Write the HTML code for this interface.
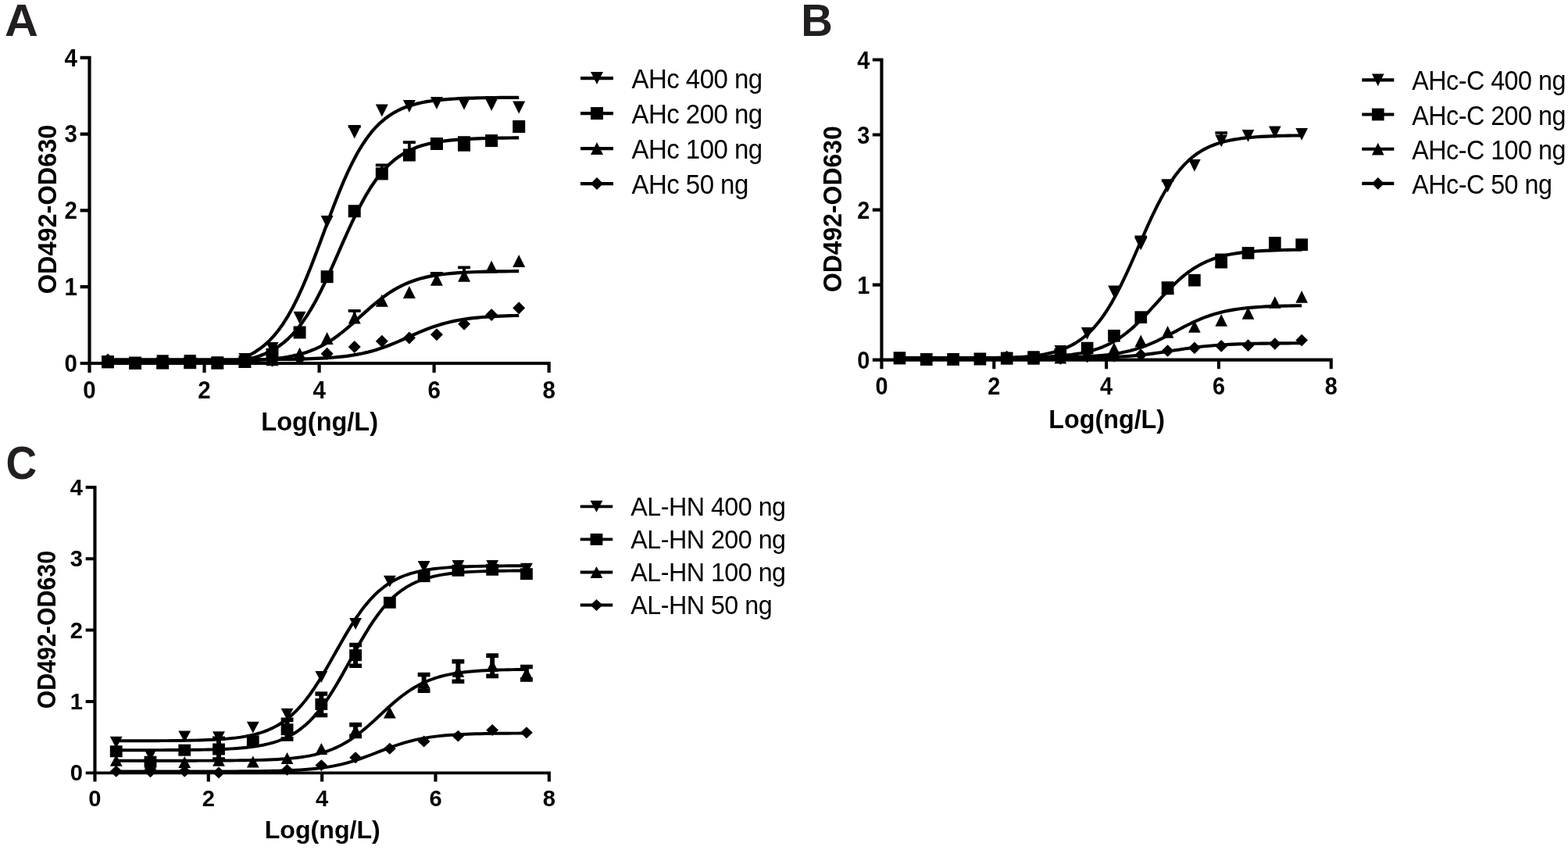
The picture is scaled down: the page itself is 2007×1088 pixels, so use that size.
<!DOCTYPE html>
<html lang="en">
<head>
<meta charset="utf-8">
<title>ELISA binding curves</title>
<style>
html,body{margin:0;padding:0;background:#fff;}
body{width:2007px;height:1088px;overflow:hidden;}
svg{display:block;}
text{font-family:"Liberation Sans",sans-serif;fill:#000;}
.tk{font-weight:700;font-size:29.5px;}
.tt{font-weight:700;font-size:32.5px;}
.lg{font-size:33px;letter-spacing:-0.52px;}
.pl{font-weight:700;font-size:58px;fill:#231f20;}
.ax{fill:none;stroke:#000;stroke-width:4.2;stroke-linecap:butt;}
.cv{fill:none;stroke:#000;stroke-width:4.2;stroke-linejoin:round;}
.eb{fill:none;stroke:#000;}
</style>
</head>
<body>
<svg width="2007" height="1088" viewBox="0 0 2007 1088">
<defs><clipPath id="clip"><rect x="-20" y="-450" width="640" height="452.1"/></clipPath></defs>
<rect width="2007" height="1088" fill="#fff"/>
<!-- panel A -->
<g transform="translate(114.5 465) scale(1.0 1.0)">
<path class="cv" clip-path="url(#clip)" d="M23.5 6.3 L29.41 6.28 L35.32 6.27 L41.24 6.25 L47.15 6.23 L53.06 6.2 L58.97 6.17 L64.89 6.14 L70.8 6.09 L76.71 6.04 L82.62 5.97 L88.54 5.89 L94.45 5.8 L100.36 5.69 L106.27 5.55 L112.19 5.39 L118.1 5.19 L124.01 4.95 L129.92 4.67 L135.83 4.33 L141.75 3.92 L147.66 3.43 L153.57 2.84 L159.48 2.13 L165.4 1.28 L171.31 0.27 L177.22 -0.94 L183.13 -2.39 L189.05 -4.11 L194.96 -6.17 L200.87 -8.6 L206.78 -11.49 L212.7 -14.9 L218.61 -18.91 L224.52 -23.6 L230.43 -29.08 L236.34 -35.42 L242.26 -42.71 L248.17 -51.04 L254.08 -60.47 L259.99 -71.03 L265.91 -82.72 L271.82 -95.52 L277.73 -109.33 L283.64 -124.01 L289.56 -139.38 L295.47 -155.21 L301.38 -171.24 L307.29 -187.2 L313.21 -202.82 L319.12 -217.85 L325.03 -232.1 L330.94 -245.38 L336.86 -257.6 L342.77 -268.7 L348.68 -278.65 L354.59 -287.49 L360.5 -295.27 L366.42 -302.04 L372.33 -307.91 L378.24 -312.96 L384.15 -317.28 L390.07 -320.96 L395.98 -324.08 L401.89 -326.73 L407.8 -328.95 L413.72 -330.82 L419.63 -332.4 L425.54 -333.71 L431.45 -334.82 L437.37 -335.74 L443.28 -336.51 L449.19 -337.15 L455.1 -337.69 L461.01 -338.13 L466.93 -338.5 L472.84 -338.81 L478.75 -339.07 L484.66 -339.29 L490.58 -339.46 L496.49 -339.61 L502.4 -339.74 L508.31 -339.84 L514.23 -339.92 L520.14 -340 L526.05 -340.05 L531.96 -340.1 L537.88 -340.14 L543.79 -340.18 L549.7 -340.21"/>
<path class="cv" clip-path="url(#clip)" d="M23.5 2.09 L29.41 2.08 L35.32 2.07 L41.24 2.06 L47.15 2.05 L53.06 2.04 L58.97 2.03 L64.89 2.01 L70.8 1.99 L76.71 1.97 L82.62 1.94 L88.54 1.9 L94.45 1.86 L100.36 1.81 L106.27 1.75 L112.19 1.67 L118.1 1.58 L124.01 1.47 L129.92 1.35 L135.83 1.19 L141.75 1 L147.66 0.78 L153.57 0.51 L159.48 0.18 L165.4 -0.2 L171.31 -0.67 L177.22 -1.23 L183.13 -1.9 L189.05 -2.71 L194.96 -3.67 L200.87 -4.81 L206.78 -6.18 L212.7 -7.81 L218.61 -9.75 L224.52 -12.04 L230.43 -14.76 L236.34 -17.95 L242.26 -21.7 L248.17 -26.07 L254.08 -31.15 L259.99 -37.01 L265.91 -43.71 L271.82 -51.32 L277.73 -59.88 L283.64 -69.39 L289.56 -79.83 L295.47 -91.16 L301.38 -103.26 L307.29 -115.99 L313.21 -129.18 L319.12 -142.6 L325.03 -156.03 L330.94 -169.25 L336.86 -182.04 L342.77 -194.22 L348.68 -205.64 L354.59 -216.19 L360.5 -225.8 L366.42 -234.46 L372.33 -242.17 L378.24 -248.98 L384.15 -254.92 L390.07 -260.08 L395.98 -264.53 L401.89 -268.34 L407.8 -271.6 L413.72 -274.36 L419.63 -276.7 L425.54 -278.67 L431.45 -280.33 L437.37 -281.73 L443.28 -282.9 L449.19 -283.88 L455.1 -284.7 L461.01 -285.38 L466.93 -285.95 L472.84 -286.43 L478.75 -286.83 L484.66 -287.16 L490.58 -287.43 L496.49 -287.66 L502.4 -287.85 L508.31 -288.01 L514.23 -288.14 L520.14 -288.25 L526.05 -288.34 L531.96 -288.42 L537.88 -288.48 L543.79 -288.54 L549.7 -288.58"/>
<path class="cv" clip-path="url(#clip)" d="M23.5 -2.27 L29.41 -2.27 L35.32 -2.28 L41.24 -2.28 L47.15 -2.28 L53.06 -2.28 L58.97 -2.28 L64.89 -2.29 L70.8 -2.29 L76.71 -2.29 L82.62 -2.3 L88.54 -2.3 L94.45 -2.31 L100.36 -2.32 L106.27 -2.33 L112.19 -2.34 L118.1 -2.36 L124.01 -2.38 L129.92 -2.4 L135.83 -2.42 L141.75 -2.46 L147.66 -2.49 L153.57 -2.54 L159.48 -2.59 L165.4 -2.66 L171.31 -2.74 L177.22 -2.83 L183.13 -2.95 L189.05 -3.08 L194.96 -3.25 L200.87 -3.44 L206.78 -3.68 L212.7 -3.96 L218.61 -4.3 L224.52 -4.71 L230.43 -5.19 L236.34 -5.77 L242.26 -6.45 L248.17 -7.27 L254.08 -8.23 L259.99 -9.37 L265.91 -10.71 L271.82 -12.28 L277.73 -14.1 L283.64 -16.22 L289.56 -18.66 L295.47 -21.44 L301.38 -24.59 L307.29 -28.11 L313.21 -32.02 L319.12 -36.29 L325.03 -40.91 L330.94 -45.81 L336.86 -50.94 L342.77 -56.23 L348.68 -61.58 L354.59 -66.91 L360.5 -72.13 L366.42 -77.15 L372.33 -81.91 L378.24 -86.34 L384.15 -90.42 L390.07 -94.13 L395.98 -97.45 L401.89 -100.41 L407.8 -103 L413.72 -105.26 L419.63 -107.22 L425.54 -108.91 L431.45 -110.35 L437.37 -111.58 L443.28 -112.63 L449.19 -113.51 L455.1 -114.25 L461.01 -114.88 L466.93 -115.4 L472.84 -115.84 L478.75 -116.21 L484.66 -116.52 L490.58 -116.77 L496.49 -116.99 L502.4 -117.17 L508.31 -117.32 L514.23 -117.44 L520.14 -117.54 L526.05 -117.63 L531.96 -117.7 L537.88 -117.76 L543.79 -117.81 L549.7 -117.85"/>
<path class="cv" clip-path="url(#clip)" d="M23.5 -4.67 L29.41 -4.67 L35.32 -4.67 L41.24 -4.67 L47.15 -4.67 L53.06 -4.67 L58.97 -4.67 L64.89 -4.67 L70.8 -4.67 L76.71 -4.67 L82.62 -4.67 L88.54 -4.67 L94.45 -4.67 L100.36 -4.67 L106.27 -4.67 L112.19 -4.67 L118.1 -4.67 L124.01 -4.67 L129.92 -4.67 L135.83 -4.68 L141.75 -4.68 L147.66 -4.68 L153.57 -4.69 L159.48 -4.69 L165.4 -4.69 L171.31 -4.7 L177.22 -4.71 L183.13 -4.72 L189.05 -4.73 L194.96 -4.74 L200.87 -4.75 L206.78 -4.77 L212.7 -4.79 L218.61 -4.82 L224.52 -4.85 L230.43 -4.89 L236.34 -4.93 L242.26 -4.99 L248.17 -5.05 L254.08 -5.13 L259.99 -5.22 L265.91 -5.34 L271.82 -5.47 L277.73 -5.63 L283.64 -5.82 L289.56 -6.05 L295.47 -6.33 L301.38 -6.66 L307.29 -7.04 L313.21 -7.5 L319.12 -8.05 L325.03 -8.69 L330.94 -9.44 L336.86 -10.31 L342.77 -11.32 L348.68 -12.49 L354.59 -13.83 L360.5 -15.35 L366.42 -17.05 L372.33 -18.94 L378.24 -21.01 L384.15 -23.25 L390.07 -25.64 L395.98 -28.16 L401.89 -30.75 L407.8 -33.39 L413.72 -36.02 L419.63 -38.61 L425.54 -41.11 L431.45 -43.48 L437.37 -45.71 L443.28 -47.75 L449.19 -49.62 L455.1 -51.3 L461.01 -52.79 L466.93 -54.1 L472.84 -55.25 L478.75 -56.25 L484.66 -57.1 L490.58 -57.84 L496.49 -58.46 L502.4 -59 L508.31 -59.45 L514.23 -59.83 L520.14 -60.15 L526.05 -60.41 L531.96 -60.64 L537.88 -60.83 L543.79 -60.98 L549.7 -61.12"/>
<path class="eb" stroke-width="3.8" d="M339.22 -295.6V-303.1M331.22 -303.1H347.22"/>
<polygon points="15.5,-9.8 31.5,-9.8 23.5,6.2"/>
<polygon points="50.58,-8.3 66.58,-8.3 58.58,7.7"/>
<polygon points="85.66,-10.7 101.66,-10.7 93.66,5.3"/>
<polygon points="120.74,-10.9 136.74,-10.9 128.74,5.1"/>
<polygon points="155.82,-8.6 171.82,-8.6 163.82,7.4"/>
<polygon points="190.9,-12.9 206.9,-12.9 198.9,3.1"/>
<polygon points="225.98,-27.1 241.98,-27.1 233.98,-11.1"/>
<polygon points="261.06,-66.2 277.06,-66.2 269.06,-50.2"/>
<polygon points="296.14,-189 312.14,-189 304.14,-173"/>
<polygon points="331.22,-303.6 347.22,-303.6 339.22,-287.6"/>
<polygon points="366.3,-331.6 382.3,-331.6 374.3,-315.6"/>
<polygon points="401.38,-337 417.38,-337 409.38,-321"/>
<polygon points="436.46,-341 452.46,-341 444.46,-325"/>
<polygon points="471.54,-340.3 487.54,-340.3 479.54,-324.3"/>
<polygon points="506.62,-339 522.62,-339 514.62,-323"/>
<polygon points="541.7,-335.5 557.7,-335.5 549.7,-319.5"/>
<path class="eb" stroke-width="3.8" d="M374.3 -242.6V-253.6M366.3 -253.6H382.3"/>
<path class="eb" stroke-width="3.8" d="M409.38 -266.5V-282.9M401.38 -282.9H417.38"/>
<path class="eb" stroke-width="3.8" d="M479.54 -281V-288.8M471.54 -288.8H487.54"/>
<path class="eb" stroke-width="3.8" d="M479.54 -281V-273.2M471.54 -273.2H487.54"/>
<rect x="15.5" y="-9.8" width="16" height="16"/>
<rect x="50.58" y="-8.3" width="16" height="16"/>
<rect x="85.66" y="-8.4" width="16" height="16"/>
<rect x="120.74" y="-8.8" width="16" height="16"/>
<rect x="155.82" y="-8.6" width="16" height="16"/>
<rect x="190.9" y="-10" width="16" height="16"/>
<rect x="225.98" y="-19.2" width="16" height="16"/>
<rect x="261.06" y="-47.5" width="16" height="16"/>
<rect x="296.14" y="-118.8" width="16" height="16"/>
<rect x="331.22" y="-202.75" width="16" height="16"/>
<rect x="366.3" y="-250.6" width="16" height="16"/>
<rect x="401.38" y="-274.5" width="16" height="16"/>
<rect x="436.46" y="-289" width="16" height="16"/>
<rect x="471.54" y="-289" width="16" height="16"/>
<rect x="506.62" y="-292.9" width="16" height="16"/>
<rect x="541.7" y="-311" width="16" height="16"/>
<path class="eb" stroke-width="3.8" d="M339.22 -58.4V-67.2M331.22 -67.2H347.22"/>
<path class="eb" stroke-width="3.8" d="M444.46 -107.2V-115.1M436.46 -115.1H452.46"/>
<path class="eb" stroke-width="3.8" d="M479.54 -112.2V-122.7M471.54 -122.7H487.54"/>
<polygon points="23.5,-9.8 31.5,6.2 15.5,6.2"/>
<polygon points="58.58,-8.3 66.58,7.7 50.58,7.7"/>
<polygon points="93.66,-9 101.66,7 85.66,7"/>
<polygon points="128.74,-9 136.74,7 120.74,7"/>
<polygon points="163.82,-8.6 171.82,7.4 155.82,7.4"/>
<polygon points="198.9,-10 206.9,6 190.9,6"/>
<polygon points="233.98,-12.8 241.98,3.2 225.98,3.2"/>
<polygon points="269.06,-20.2 277.06,-4.2 261.06,-4.2"/>
<polygon points="304.14,-40 312.14,-24 296.14,-24"/>
<polygon points="339.22,-66.4 347.22,-50.4 331.22,-50.4"/>
<polygon points="374.3,-88.3 382.3,-72.3 366.3,-72.3"/>
<polygon points="409.38,-99 417.38,-83 401.38,-83"/>
<polygon points="444.46,-115.2 452.46,-99.2 436.46,-99.2"/>
<polygon points="479.54,-120.2 487.54,-104.2 471.54,-104.2"/>
<polygon points="514.62,-131.4 522.62,-115.4 506.62,-115.4"/>
<polygon points="549.7,-139 557.7,-123 541.7,-123"/>
<polygon points="23.5,-12.6 31.5,-4.6 23.5,3.4 15.5,-4.6"/>
<polygon points="58.58,-8.3 66.58,-0.3 58.58,7.7 50.58,-0.3"/>
<polygon points="93.66,-9 101.66,-1 93.66,7 85.66,-1"/>
<polygon points="128.74,-9 136.74,-1 128.74,7 120.74,-1"/>
<polygon points="163.82,-8.6 171.82,-0.6 163.82,7.4 155.82,-0.6"/>
<polygon points="198.9,-10 206.9,-2 198.9,6 190.9,-2"/>
<polygon points="233.98,-11.4 241.98,-3.4 233.98,4.6 225.98,-3.4"/>
<polygon points="269.06,-14 277.06,-6 269.06,2 261.06,-6"/>
<polygon points="304.14,-20.3 312.14,-12.3 304.14,-4.3 296.14,-12.3"/>
<polygon points="339.22,-29.1 347.22,-21.1 339.22,-13.1 331.22,-21.1"/>
<polygon points="374.3,-36.2 382.3,-28.2 374.3,-20.2 366.3,-28.2"/>
<polygon points="409.38,-40.4 417.38,-32.4 409.38,-24.4 401.38,-32.4"/>
<polygon points="444.46,-44.8 452.46,-36.8 444.46,-28.8 436.46,-36.8"/>
<polygon points="479.54,-58.2 487.54,-50.2 479.54,-42.2 471.54,-50.2"/>
<polygon points="514.62,-70 522.62,-62 514.62,-54 506.62,-62"/>
<polygon points="549.7,-78.7 557.7,-70.7 549.7,-62.7 541.7,-70.7"/>
<path class="ax" d="M0 -393.3V11.9M-11.9 0H590.26M-11.9 -97.8H0M-11.9 -195.6H0M-11.9 -293.4H0M-11.9 -391.2H0M147.04 0V11.9M294.08 0V11.9M441.12 0V11.9M588.16 0V11.9"/>
<text class="tk" text-anchor="end" transform="translate(-15.6 10.85) scale(1.0 1.04)">0</text>
<text class="tk" text-anchor="end" transform="translate(-15.6 -86.95) scale(1.0 1.04)">1</text>
<text class="tk" text-anchor="end" transform="translate(-15.6 -184.75) scale(1.0 1.04)">2</text>
<text class="tk" text-anchor="end" transform="translate(-15.6 -282.55) scale(1.0 1.04)">3</text>
<text class="tk" text-anchor="end" transform="translate(-15.6 -380.35) scale(1.0 1.04)">4</text>
<text class="tk" text-anchor="middle" transform="translate(0 45) scale(1.0 1.04)">0</text>
<text class="tk" text-anchor="middle" transform="translate(147.04 45) scale(1.0 1.04)">2</text>
<text class="tk" text-anchor="middle" transform="translate(294.08 45) scale(1.0 1.04)">4</text>
<text class="tk" text-anchor="middle" transform="translate(441.12 45) scale(1.0 1.04)">6</text>
<text class="tk" text-anchor="middle" transform="translate(588.16 45) scale(1.0 1.04)">8</text>
<text class="tt" text-anchor="middle" transform="translate(294.68 85.9) scale(1.0 1.04)">Log(ng/L)</text>
<text class="tt" text-anchor="middle" transform="translate(-43 -197) rotate(-90) scale(1.0 1.04)">OD492-OD630</text>
<path class="cv" d="M628.5 -364.9H670.5"/>
<polygon points="641.5,-372.9 657.5,-372.9 649.5,-356.9"/>
<text class="lg" transform="translate(693.9 -351.8) scale(1.0 1.05)">AHc 400 ng</text>
<path class="cv" d="M628.5 -319.9H670.5"/>
<rect x="641.5" y="-327.9" width="16" height="16"/>
<text class="lg" transform="translate(693.9 -306.8) scale(1.0 1.05)">AHc 200 ng</text>
<path class="cv" d="M628.5 -274.9H670.5"/>
<polygon points="649.5,-282.9 657.5,-266.9 641.5,-266.9"/>
<text class="lg" transform="translate(693.9 -261.8) scale(1.0 1.05)">AHc 100 ng</text>
<path class="cv" d="M628.5 -229.9H670.5"/>
<polygon points="649.5,-237.9 657.5,-229.9 649.5,-221.9 641.5,-229.9"/>
<text class="lg" transform="translate(693.9 -216.8) scale(1.0 1.05)">AHc 50 ng</text>
</g>
<!-- panel B -->
<g transform="translate(1128.45 460.65) scale(0.9782 0.982)">
<path class="cv" clip-path="url(#clip)" d="M23.52 -1.3 L29.43 -1.31 L35.35 -1.31 L41.26 -1.32 L47.17 -1.32 L53.08 -1.33 L59 -1.34 L64.91 -1.35 L70.82 -1.36 L76.73 -1.37 L82.64 -1.39 L88.56 -1.41 L94.47 -1.44 L100.38 -1.47 L106.29 -1.51 L112.2 -1.55 L118.12 -1.6 L124.03 -1.67 L129.94 -1.75 L135.85 -1.84 L141.77 -1.95 L147.68 -2.09 L153.59 -2.25 L159.5 -2.45 L165.41 -2.68 L171.33 -2.96 L177.24 -3.3 L183.15 -3.71 L189.06 -4.19 L194.97 -4.78 L200.89 -5.48 L206.8 -6.31 L212.71 -7.32 L218.62 -8.51 L224.54 -9.94 L230.45 -11.64 L236.36 -13.65 L242.27 -16.04 L248.18 -18.86 L254.1 -22.18 L260.01 -26.07 L265.92 -30.6 L271.83 -35.86 L277.74 -41.91 L283.66 -48.83 L289.57 -56.66 L295.48 -65.45 L301.39 -75.19 L307.31 -85.86 L313.22 -97.4 L319.13 -109.68 L325.04 -122.56 L330.95 -135.84 L336.87 -149.32 L342.78 -162.76 L348.69 -175.93 L354.6 -188.63 L360.51 -200.68 L366.43 -211.94 L372.34 -222.31 L378.25 -231.74 L384.16 -240.21 L390.08 -247.73 L395.99 -254.36 L401.9 -260.14 L407.81 -265.15 L413.72 -269.46 L419.64 -273.15 L425.55 -276.3 L431.46 -278.97 L437.37 -281.23 L443.28 -283.13 L449.2 -284.73 L455.11 -286.08 L461.02 -287.21 L466.93 -288.15 L472.85 -288.94 L478.76 -289.6 L484.67 -290.15 L490.58 -290.61 L496.49 -290.99 L502.41 -291.31 L508.32 -291.57 L514.23 -291.8 L520.14 -291.98 L526.05 -292.13 L531.97 -292.26 L537.88 -292.36 L543.79 -292.45 L549.7 -292.53"/>
<path class="cv" clip-path="url(#clip)" d="M23.52 -2.55 L29.43 -2.55 L35.35 -2.55 L41.26 -2.55 L47.17 -2.55 L53.08 -2.55 L59 -2.55 L64.91 -2.56 L70.82 -2.56 L76.73 -2.56 L82.64 -2.57 L88.56 -2.57 L94.47 -2.58 L100.38 -2.59 L106.29 -2.59 L112.2 -2.61 L118.12 -2.62 L124.03 -2.63 L129.94 -2.65 L135.85 -2.67 L141.77 -2.7 L147.68 -2.73 L153.59 -2.77 L159.5 -2.82 L165.41 -2.87 L171.33 -2.94 L177.24 -3.02 L183.15 -3.11 L189.06 -3.23 L194.97 -3.37 L200.89 -3.54 L206.8 -3.74 L212.71 -3.98 L218.62 -4.27 L224.54 -4.61 L230.45 -5.03 L236.36 -5.52 L242.27 -6.11 L248.18 -6.81 L254.1 -7.65 L260.01 -8.64 L265.92 -9.82 L271.83 -11.21 L277.74 -12.85 L283.66 -14.76 L289.57 -16.99 L295.48 -19.58 L301.39 -22.55 L307.31 -25.95 L313.22 -29.79 L319.13 -34.1 L325.04 -38.87 L330.95 -44.09 L336.87 -49.72 L342.78 -55.71 L348.69 -61.98 L354.6 -68.43 L360.51 -74.97 L366.43 -81.48 L372.34 -87.85 L378.25 -93.98 L384.16 -99.79 L390.08 -105.21 L395.99 -110.19 L401.9 -114.72 L407.81 -118.78 L413.72 -122.38 L419.64 -125.55 L425.55 -128.32 L431.46 -130.71 L437.37 -132.77 L443.28 -134.53 L449.2 -136.04 L455.11 -137.31 L461.02 -138.39 L466.93 -139.29 L472.85 -140.06 L478.76 -140.7 L484.67 -141.24 L490.58 -141.69 L496.49 -142.06 L502.41 -142.38 L508.32 -142.64 L514.23 -142.86 L520.14 -143.04 L526.05 -143.19 L531.97 -143.32 L537.88 -143.42 L543.79 -143.51 L549.7 -143.58"/>
<path class="cv" clip-path="url(#clip)" d="M23.52 -2.54 L29.43 -2.54 L35.35 -2.54 L41.26 -2.54 L47.17 -2.54 L53.08 -2.54 L59 -2.55 L64.91 -2.55 L70.82 -2.55 L76.73 -2.55 L82.64 -2.55 L88.56 -2.55 L94.47 -2.55 L100.38 -2.55 L106.29 -2.55 L112.2 -2.56 L118.12 -2.56 L124.03 -2.56 L129.94 -2.57 L135.85 -2.57 L141.77 -2.58 L147.68 -2.58 L153.59 -2.59 L159.5 -2.6 L165.41 -2.62 L171.33 -2.63 L177.24 -2.65 L183.15 -2.67 L189.06 -2.7 L194.97 -2.73 L200.89 -2.76 L206.8 -2.81 L212.71 -2.86 L218.62 -2.93 L224.54 -3.01 L230.45 -3.1 L236.36 -3.21 L242.27 -3.35 L248.18 -3.51 L254.1 -3.7 L260.01 -3.93 L265.92 -4.21 L271.83 -4.54 L277.74 -4.93 L283.66 -5.39 L289.57 -5.94 L295.48 -6.59 L301.39 -7.36 L307.31 -8.26 L313.22 -9.3 L319.13 -10.52 L325.04 -11.92 L330.95 -13.52 L336.87 -15.34 L342.78 -17.38 L348.69 -19.64 L354.6 -22.13 L360.51 -24.82 L366.43 -27.68 L372.34 -30.7 L378.25 -33.81 L384.16 -36.98 L390.08 -40.14 L395.99 -43.25 L401.9 -46.25 L407.81 -49.1 L413.72 -51.77 L419.64 -54.24 L425.55 -56.48 L431.46 -58.5 L437.37 -60.29 L443.28 -61.87 L449.2 -63.25 L455.11 -64.45 L461.02 -65.48 L466.93 -66.37 L472.85 -67.12 L478.76 -67.76 L484.67 -68.3 L490.58 -68.76 L496.49 -69.14 L502.41 -69.47 L508.32 -69.74 L514.23 -69.96 L520.14 -70.15 L526.05 -70.31 L531.97 -70.44 L537.88 -70.55 L543.79 -70.65 L549.7 -70.72"/>
<path class="cv" clip-path="url(#clip)" d="M23.52 -2.08 L29.43 -2.08 L35.35 -2.08 L41.26 -2.08 L47.17 -2.08 L53.08 -2.08 L59 -2.08 L64.91 -2.08 L70.82 -2.08 L76.73 -2.08 L82.64 -2.08 L88.56 -2.08 L94.47 -2.08 L100.38 -2.08 L106.29 -2.08 L112.2 -2.08 L118.12 -2.08 L124.03 -2.09 L129.94 -2.09 L135.85 -2.09 L141.77 -2.09 L147.68 -2.09 L153.59 -2.1 L159.5 -2.1 L165.41 -2.1 L171.33 -2.11 L177.24 -2.11 L183.15 -2.12 L189.06 -2.13 L194.97 -2.14 L200.89 -2.15 L206.8 -2.17 L212.71 -2.18 L218.62 -2.2 L224.54 -2.23 L230.45 -2.26 L236.36 -2.29 L242.27 -2.34 L248.18 -2.39 L254.1 -2.45 L260.01 -2.53 L265.92 -2.61 L271.83 -2.72 L277.74 -2.84 L283.66 -2.99 L289.57 -3.17 L295.48 -3.38 L301.39 -3.62 L307.31 -3.9 L313.22 -4.23 L319.13 -4.62 L325.04 -5.05 L330.95 -5.55 L336.87 -6.12 L342.78 -6.74 L348.69 -7.43 L354.6 -8.19 L360.51 -9 L366.43 -9.85 L372.34 -10.74 L378.25 -11.65 L384.16 -12.56 L390.08 -13.47 L395.99 -14.35 L401.9 -15.19 L407.81 -15.98 L413.72 -16.72 L419.64 -17.39 L425.55 -18 L431.46 -18.55 L437.37 -19.03 L443.28 -19.45 L449.2 -19.81 L455.11 -20.13 L461.02 -20.4 L466.93 -20.64 L472.85 -20.83 L478.76 -21 L484.67 -21.14 L490.58 -21.26 L496.49 -21.36 L502.41 -21.44 L508.32 -21.51 L514.23 -21.57 L520.14 -21.62 L526.05 -21.66 L531.97 -21.7 L537.88 -21.73 L543.79 -21.75 L549.7 -21.77"/>
<path class="eb" stroke-width="3.6" d="M339.23 -150.97V-160.34M331.23 -160.34H347.23"/>
<path class="eb" stroke-width="3.6" d="M374.31 -226.32V-233.96M366.31 -233.96H382.31"/>
<path class="eb" stroke-width="3.6" d="M444.47 -285.39V-296.08M436.47 -296.08H452.47"/>
<polygon points="15.52,-10.29 31.52,-10.29 23.52,5.71"/>
<polygon points="50.6,-8.56 66.6,-8.56 58.6,7.44"/>
<polygon points="85.68,-8.81 101.68,-8.81 93.68,7.19"/>
<polygon points="120.76,-9.17 136.76,-9.17 128.76,6.83"/>
<polygon points="155.84,-10.09 171.84,-10.09 163.84,5.91"/>
<polygon points="190.92,-11.72 206.92,-11.72 198.92,4.28"/>
<polygon points="226,-18.95 242,-18.95 234,-2.95"/>
<polygon points="261.07,-42.37 277.07,-42.37 269.07,-26.37"/>
<polygon points="296.15,-96.95 312.15,-96.95 304.15,-80.95"/>
<polygon points="331.23,-158.97 347.23,-158.97 339.23,-142.97"/>
<polygon points="366.31,-234.32 382.31,-234.32 374.31,-218.32"/>
<polygon points="401.39,-261.41 417.39,-261.41 409.39,-245.41"/>
<polygon points="436.47,-293.39 452.47,-293.39 444.47,-277.39"/>
<polygon points="471.55,-300.11 487.55,-300.11 479.55,-284.11"/>
<polygon points="506.62,-304.69 522.62,-304.69 514.62,-288.69"/>
<polygon points="541.7,-302.14 557.7,-302.14 549.7,-286.14"/>
<path class="eb" stroke-width="3.6" d="M374.31 -93.53V-100.36M366.31 -100.36H382.31"/>
<path class="eb" stroke-width="3.6" d="M374.31 -93.53V-86.71M366.31 -86.71H382.31"/>
<path class="eb" stroke-width="3.6" d="M444.47 -128.97V-136.91M436.47 -136.91H452.47"/>
<path class="eb" stroke-width="3.6" d="M444.47 -128.97V-121.03M436.47 -121.03H452.47"/>
<rect x="15.52" y="-10.29" width="16" height="16"/>
<rect x="50.6" y="-8.56" width="16" height="16"/>
<rect x="85.68" y="-8.81" width="16" height="16"/>
<rect x="120.76" y="-9.17" width="16" height="16"/>
<rect x="155.84" y="-10.09" width="16" height="16"/>
<rect x="190.92" y="-10.7" width="16" height="16"/>
<rect x="226" y="-15.38" width="16" height="16"/>
<rect x="261.07" y="-23.33" width="16" height="16"/>
<rect x="296.15" y="-39.42" width="16" height="16"/>
<rect x="331.23" y="-63.55" width="16" height="16"/>
<rect x="366.31" y="-101.53" width="16" height="16"/>
<rect x="401.39" y="-111.82" width="16" height="16"/>
<rect x="436.47" y="-136.97" width="16" height="16"/>
<rect x="471.55" y="-147.26" width="16" height="16"/>
<rect x="506.62" y="-160.39" width="16" height="16"/>
<rect x="541.7" y="-158.15" width="16" height="16"/>
<polygon points="23.52,-10.29 31.52,5.71 15.52,5.71"/>
<polygon points="58.6,-8.56 66.6,7.44 50.6,7.44"/>
<polygon points="93.68,-8.81 101.68,7.19 85.68,7.19"/>
<polygon points="128.76,-9.17 136.76,6.83 120.76,6.83"/>
<polygon points="163.84,-10.09 171.84,5.91 155.84,5.91"/>
<polygon points="198.92,-9.68 206.92,6.32 190.92,6.32"/>
<polygon points="234,-11 242,5 226,5"/>
<polygon points="269.07,-14.77 277.07,1.23 261.07,1.23"/>
<polygon points="304.15,-22.71 312.15,-6.71 296.15,-6.71"/>
<polygon points="339.23,-32.69 347.23,-16.69 331.23,-16.69"/>
<polygon points="374.31,-44.41 382.31,-28.41 366.31,-28.41"/>
<polygon points="409.39,-51.53 417.39,-35.53 401.39,-35.53"/>
<polygon points="444.47,-59.78 452.47,-43.78 436.47,-43.78"/>
<polygon points="479.55,-68.95 487.55,-52.95 471.55,-52.95"/>
<polygon points="514.62,-83 522.62,-67 506.62,-67"/>
<polygon points="549.7,-90.23 557.7,-74.23 541.7,-74.23"/>
<polygon points="23.52,-10.29 31.52,-2.29 23.52,5.71 15.52,-2.29"/>
<polygon points="58.6,-8.56 66.6,-0.56 58.6,7.44 50.6,-0.56"/>
<polygon points="93.68,-8.81 101.68,-0.81 93.68,7.19 85.68,-0.81"/>
<polygon points="128.76,-9.17 136.76,-1.17 128.76,6.83 120.76,-1.17"/>
<polygon points="163.84,-12.02 171.84,-4.02 163.84,3.98 155.84,-4.02"/>
<polygon points="198.92,-9.68 206.92,-1.68 198.92,6.32 190.92,-1.68"/>
<polygon points="234,-9.68 242,-1.68 234,6.32 226,-1.68"/>
<polygon points="269.07,-12.23 277.07,-4.23 269.07,3.77 261.07,-4.23"/>
<polygon points="304.15,-12.84 312.15,-4.84 304.15,3.16 296.15,-4.84"/>
<polygon points="339.23,-14.47 347.23,-6.47 339.23,1.53 331.23,-6.47"/>
<polygon points="374.31,-19.86 382.31,-11.86 374.31,-3.86 366.31,-11.86"/>
<polygon points="409.39,-23.63 417.39,-15.63 409.39,-7.63 401.39,-15.63"/>
<polygon points="444.47,-26.08 452.47,-18.08 444.47,-10.08 436.47,-18.08"/>
<polygon points="479.55,-26.79 487.55,-18.79 479.55,-10.79 471.55,-18.79"/>
<polygon points="514.62,-29.03 522.62,-21.03 514.62,-13.03 506.62,-21.03"/>
<polygon points="549.7,-33.61 557.7,-25.61 549.7,-17.61 541.7,-25.61"/>
<path class="ax" d="M0 -393.3V11.9M-11.9 0H590.26M-11.9 -97.8H0M-11.9 -195.6H0M-11.9 -293.4H0M-11.9 -391.2H0M147.04 0V11.9M294.08 0V11.9M441.12 0V11.9M588.16 0V11.9"/>
<text class="tk" text-anchor="end" transform="translate(-15.6 11.49) scale(1.0 1.1024)">0</text>
<text class="tk" text-anchor="end" transform="translate(-15.6 -86.31) scale(1.0 1.1024)">1</text>
<text class="tk" text-anchor="end" transform="translate(-15.6 -184.11) scale(1.0 1.1024)">2</text>
<text class="tk" text-anchor="end" transform="translate(-15.6 -281.91) scale(1.0 1.1024)">3</text>
<text class="tk" text-anchor="end" transform="translate(-15.6 -379.71) scale(1.0 1.1024)">4</text>
<text class="tk" text-anchor="middle" transform="translate(0 45) scale(1.0 1.1024)">0</text>
<text class="tk" text-anchor="middle" transform="translate(147.04 45) scale(1.0 1.1024)">2</text>
<text class="tk" text-anchor="middle" transform="translate(294.08 45) scale(1.0 1.1024)">4</text>
<text class="tk" text-anchor="middle" transform="translate(441.12 45) scale(1.0 1.1024)">6</text>
<text class="tk" text-anchor="middle" transform="translate(588.16 45) scale(1.0 1.1024)">8</text>
<text class="tt" text-anchor="middle" transform="translate(294.68 88.5) scale(1.015 1.0608)">Log(ng/L)</text>
<text class="tt" text-anchor="middle" transform="translate(-52.8 -196.5) rotate(-90) scale(1.0 1.0608)">OD492-OD630</text>
<path class="cv" d="M628.5 -364.9H670.5"/>
<polygon points="641.5,-372.9 657.5,-372.9 649.5,-356.9"/>
<text class="lg" transform="translate(693.9 -351.5) scale(1.0 1.0815000000000001)">AHc-C 400 ng</text>
<path class="cv" d="M628.5 -319.9H670.5"/>
<rect x="641.5" y="-327.9" width="16" height="16"/>
<text class="lg" transform="translate(693.9 -306.5) scale(1.0 1.0815000000000001)">AHc-C 200 ng</text>
<path class="cv" d="M628.5 -274.9H670.5"/>
<polygon points="649.5,-282.9 657.5,-266.9 641.5,-266.9"/>
<text class="lg" transform="translate(693.9 -261.5) scale(1.0 1.0815000000000001)">AHc-C 100 ng</text>
<path class="cv" d="M628.5 -229.9H670.5"/>
<polygon points="649.5,-237.9 657.5,-229.9 649.5,-221.9 641.5,-229.9"/>
<text class="lg" transform="translate(693.9 -216.5) scale(1.0 1.0815000000000001)">AHc-C 50 ng</text>
</g>
<!-- panel C -->
<g transform="translate(121.45 989.35) scale(0.9885 0.9345)">
<path class="cv" clip-path="url(#clip)" d="M27.57 -43.9 L33.54 -43.91 L39.51 -43.92 L45.48 -43.93 L51.45 -43.94 L57.42 -43.95 L63.39 -43.97 L69.36 -43.99 L75.33 -44.02 L81.3 -44.05 L87.27 -44.09 L93.24 -44.13 L99.21 -44.18 L105.18 -44.25 L111.15 -44.33 L117.12 -44.42 L123.09 -44.53 L129.06 -44.67 L135.03 -44.83 L141 -45.03 L146.97 -45.27 L152.94 -45.56 L158.91 -45.9 L164.88 -46.31 L170.85 -46.81 L176.82 -47.41 L182.79 -48.12 L188.76 -48.98 L194.73 -50 L200.7 -51.22 L206.67 -52.68 L212.64 -54.41 L218.61 -56.47 L224.58 -58.89 L230.55 -61.75 L236.53 -65.1 L242.5 -69.01 L248.47 -73.54 L254.44 -78.76 L260.41 -84.71 L266.38 -91.44 L272.35 -98.98 L278.32 -107.31 L284.29 -116.41 L290.26 -126.21 L296.23 -136.59 L302.2 -147.43 L308.17 -158.55 L314.14 -169.75 L320.11 -180.86 L326.08 -191.68 L332.05 -202.03 L338.02 -211.79 L343.99 -220.85 L349.96 -229.14 L355.93 -236.63 L361.9 -243.32 L367.87 -249.23 L373.84 -254.4 L379.81 -258.9 L385.78 -262.77 L391.75 -266.1 L397.72 -268.93 L403.69 -271.33 L409.66 -273.37 L415.63 -275.08 L421.6 -276.53 L427.57 -277.74 L433.54 -278.75 L439.51 -279.6 L445.48 -280.3 L451.45 -280.89 L457.42 -281.39 L463.39 -281.8 L469.36 -282.14 L475.33 -282.42 L481.3 -282.65 L487.27 -282.85 L493.25 -283.01 L499.22 -283.15 L505.19 -283.26 L511.16 -283.35 L517.13 -283.43 L523.1 -283.49 L529.07 -283.55 L535.04 -283.59 L541.01 -283.63 L546.98 -283.66 L552.95 -283.68 L558.92 -283.71"/>
<path class="cv" clip-path="url(#clip)" d="M27.57 -31.19 L33.54 -31.19 L39.51 -31.2 L45.48 -31.2 L51.45 -31.21 L57.42 -31.22 L63.39 -31.23 L69.36 -31.24 L75.33 -31.25 L81.3 -31.27 L87.27 -31.29 L93.24 -31.32 L99.21 -31.35 L105.18 -31.38 L111.15 -31.43 L117.12 -31.48 L123.09 -31.54 L129.06 -31.62 L135.03 -31.71 L141 -31.82 L146.97 -31.95 L152.94 -32.11 L158.91 -32.3 L164.88 -32.53 L170.85 -32.81 L176.82 -33.15 L182.79 -33.55 L188.76 -34.03 L194.73 -34.61 L200.7 -35.31 L206.67 -36.14 L212.64 -37.14 L218.61 -38.33 L224.58 -39.75 L230.55 -41.44 L236.53 -43.44 L242.5 -45.82 L248.47 -48.61 L254.44 -51.9 L260.41 -55.73 L266.38 -60.19 L272.35 -65.33 L278.32 -71.21 L284.29 -77.88 L290.26 -85.36 L296.23 -93.68 L302.2 -102.79 L308.17 -112.64 L314.14 -123.13 L320.11 -134.13 L326.08 -145.47 L332.05 -156.96 L338.02 -168.4 L343.99 -179.6 L349.96 -190.38 L355.93 -200.58 L361.9 -210.09 L367.87 -218.83 L373.84 -226.76 L379.81 -233.85 L385.78 -240.15 L391.75 -245.67 L397.72 -250.47 L403.69 -254.63 L409.66 -258.19 L415.63 -261.24 L421.6 -263.83 L427.57 -266.02 L433.54 -267.87 L439.51 -269.43 L445.48 -270.73 L451.45 -271.83 L457.42 -272.75 L463.39 -273.51 L469.36 -274.15 L475.33 -274.68 L481.3 -275.12 L487.27 -275.49 L493.25 -275.8 L499.22 -276.05 L505.19 -276.27 L511.16 -276.44 L517.13 -276.59 L523.1 -276.71 L529.07 -276.81 L535.04 -276.89 L541.01 -276.96 L546.98 -277.02 L552.95 -277.07 L558.92 -277.11"/>
<path class="cv" clip-path="url(#clip)" d="M27.57 -16.72 L33.54 -16.72 L39.51 -16.72 L45.48 -16.72 L51.45 -16.72 L57.42 -16.72 L63.39 -16.72 L69.36 -16.73 L75.33 -16.73 L81.3 -16.73 L87.27 -16.73 L93.24 -16.74 L99.21 -16.74 L105.18 -16.75 L111.15 -16.75 L117.12 -16.76 L123.09 -16.77 L129.06 -16.78 L135.03 -16.8 L141 -16.81 L146.97 -16.83 L152.94 -16.86 L158.91 -16.89 L164.88 -16.92 L170.85 -16.96 L176.82 -17.01 L182.79 -17.08 L188.76 -17.15 L194.73 -17.24 L200.7 -17.35 L206.67 -17.48 L212.64 -17.63 L218.61 -17.82 L224.58 -18.04 L230.55 -18.31 L236.53 -18.63 L242.5 -19.02 L248.47 -19.48 L254.44 -20.04 L260.41 -20.7 L266.38 -21.49 L272.35 -22.43 L278.32 -23.54 L284.29 -24.85 L290.26 -26.39 L296.23 -28.2 L302.2 -30.3 L308.17 -32.74 L314.14 -35.54 L320.11 -38.73 L326.08 -42.33 L332.05 -46.35 L338.02 -50.79 L343.99 -55.62 L349.96 -60.81 L355.93 -66.29 L361.9 -71.98 L367.87 -77.81 L373.84 -83.66 L379.81 -89.44 L385.78 -95.05 L391.75 -100.4 L397.72 -105.43 L403.69 -110.09 L409.66 -114.33 L415.63 -118.16 L421.6 -121.57 L427.57 -124.58 L433.54 -127.21 L439.51 -129.49 L445.48 -131.45 L451.45 -133.13 L457.42 -134.57 L463.39 -135.78 L469.36 -136.81 L475.33 -137.68 L481.3 -138.4 L487.27 -139.01 L493.25 -139.52 L499.22 -139.95 L505.19 -140.31 L511.16 -140.6 L517.13 -140.85 L523.1 -141.06 L529.07 -141.23 L535.04 -141.37 L541.01 -141.49 L546.98 -141.59 L552.95 -141.67 L558.92 -141.74"/>
<path class="cv" clip-path="url(#clip)" d="M27.57 -1.96 L33.54 -1.96 L39.51 -1.96 L45.48 -1.96 L51.45 -1.96 L57.42 -1.96 L63.39 -1.96 L69.36 -1.96 L75.33 -1.96 L81.3 -1.96 L87.27 -1.96 L93.24 -1.97 L99.21 -1.97 L105.18 -1.97 L111.15 -1.97 L117.12 -1.98 L123.09 -1.98 L129.06 -1.99 L135.03 -1.99 L141 -2 L146.97 -2.01 L152.94 -2.02 L158.91 -2.04 L164.88 -2.05 L170.85 -2.07 L176.82 -2.1 L182.79 -2.13 L188.76 -2.16 L194.73 -2.2 L200.7 -2.25 L206.67 -2.31 L212.64 -2.39 L218.61 -2.47 L224.58 -2.58 L230.55 -2.71 L236.53 -2.86 L242.5 -3.04 L248.47 -3.26 L254.44 -3.52 L260.41 -3.83 L266.38 -4.19 L272.35 -4.63 L278.32 -5.15 L284.29 -5.75 L290.26 -6.47 L296.23 -7.3 L302.2 -8.27 L308.17 -9.38 L314.14 -10.66 L320.11 -12.1 L326.08 -13.72 L332.05 -15.51 L338.02 -17.48 L343.99 -19.6 L349.96 -21.85 L355.93 -24.21 L361.9 -26.63 L367.87 -29.09 L373.84 -31.53 L379.81 -33.91 L385.78 -36.19 L391.75 -38.36 L397.72 -40.37 L403.69 -42.21 L409.66 -43.88 L415.63 -45.38 L421.6 -46.7 L427.57 -47.86 L433.54 -48.87 L439.51 -49.74 L445.48 -50.49 L451.45 -51.13 L457.42 -51.67 L463.39 -52.13 L469.36 -52.51 L475.33 -52.84 L481.3 -53.11 L487.27 -53.34 L493.25 -53.53 L499.22 -53.69 L505.19 -53.83 L511.16 -53.94 L517.13 -54.03 L523.1 -54.11 L529.07 -54.17 L535.04 -54.22 L541.01 -54.27 L546.98 -54.3 L552.95 -54.34 L558.92 -54.36"/>
<polygon points="19.57,-49.79 35.57,-49.79 27.57,-33.79"/>
<polygon points="63.85,-32.13 79.85,-32.13 71.85,-16.13"/>
<polygon points="108.13,-57.71 124.13,-57.71 116.13,-41.71"/>
<polygon points="152.4,-56.85 168.4,-56.85 160.4,-40.85"/>
<polygon points="196.68,-70.33 212.68,-70.33 204.68,-54.33"/>
<polygon points="240.96,-88.42 256.96,-88.42 248.96,-72.42"/>
<polygon points="285.24,-139.46 301.24,-139.46 293.24,-123.46"/>
<polygon points="329.52,-212.33 345.52,-212.33 337.52,-196.33"/>
<polygon points="373.8,-270.23 389.8,-270.23 381.8,-254.23"/>
<polygon points="418.08,-290.34 434.08,-290.34 426.08,-274.34"/>
<polygon points="462.36,-291.41 478.36,-291.41 470.36,-275.41"/>
<polygon points="506.64,-291.41 522.64,-291.41 514.64,-275.41"/>
<polygon points="550.92,-287.35 566.92,-287.35 558.92,-271.35"/>
<path class="eb" stroke-width="6" d="M160.4 -32.48V-47.24M152.4 -47.24H168.4"/>
<path class="eb" stroke-width="6" d="M160.4 -32.48V-18.57M152.4 -18.57H168.4"/>
<path class="eb" stroke-width="6" d="M248.96 -59.55V-72.71M240.96 -72.71H256.96"/>
<path class="eb" stroke-width="6" d="M248.96 -59.55V-46.5M240.96 -46.5H256.96"/>
<path class="eb" stroke-width="6" d="M293.24 -94.11V-108.45M285.24 -108.45H301.24"/>
<path class="eb" stroke-width="6" d="M293.24 -94.11V-79.03M285.24 -79.03H301.24"/>
<path class="eb" stroke-width="6" d="M337.52 -161.26V-175.33M329.52 -175.33H345.52"/>
<path class="eb" stroke-width="6" d="M337.52 -161.26V-146.66M329.52 -146.66H345.52"/>
<rect x="19.57" y="-37.53" width="16" height="16"/>
<rect x="63.85" y="-23.14" width="16" height="16"/>
<rect x="108.13" y="-39.19" width="16" height="16"/>
<rect x="152.4" y="-40.48" width="16" height="16"/>
<rect x="196.68" y="-51.39" width="16" height="16"/>
<rect x="240.96" y="-67.55" width="16" height="16"/>
<rect x="285.24" y="-102.11" width="16" height="16"/>
<rect x="329.52" y="-169.26" width="16" height="16"/>
<rect x="373.8" y="-241.33" width="16" height="16"/>
<rect x="418.08" y="-277.29" width="16" height="16"/>
<rect x="462.36" y="-285.21" width="16" height="16"/>
<rect x="506.64" y="-286.28" width="16" height="16"/>
<rect x="550.92" y="-280.5" width="16" height="16"/>
<path class="eb" stroke-width="6" d="M337.52 -58.16V-66.08M329.52 -66.08H345.52"/>
<path class="eb" stroke-width="6" d="M337.52 -58.16V-50.24M329.52 -50.24H345.52"/>
<path class="eb" stroke-width="6" d="M426.08 -123.65V-134.67M418.08 -134.67H434.08"/>
<path class="eb" stroke-width="6" d="M426.08 -123.65V-112.57M418.08 -112.57H434.08"/>
<path class="eb" stroke-width="6" d="M470.36 -139.06V-152.76M462.36 -152.76H478.36"/>
<path class="eb" stroke-width="6" d="M470.36 -139.06V-125.36M462.36 -125.36H478.36"/>
<path class="eb" stroke-width="6" d="M514.64 -146.66V-160.78M506.64 -160.78H522.64"/>
<path class="eb" stroke-width="6" d="M514.64 -146.66V-132.64M506.64 -132.64H522.64"/>
<path class="eb" stroke-width="6" d="M558.92 -136.6V-145.37M550.92 -145.37H566.92"/>
<path class="eb" stroke-width="6" d="M558.92 -136.6V-127.82M550.92 -127.82H566.92"/>
<polygon points="27.57,-25.07 35.57,-9.07 19.57,-9.07"/>
<polygon points="71.85,-20.15 79.85,-4.15 63.85,-4.15"/>
<polygon points="116.13,-22.87 124.13,-6.87 108.13,-6.87"/>
<polygon points="160.4,-25.07 168.4,-9.07 152.4,-9.07"/>
<polygon points="204.68,-23.25 212.68,-7.25 196.68,-7.25"/>
<polygon points="248.96,-28.17 256.96,-12.17 240.96,-12.17"/>
<polygon points="293.24,-40.91 301.24,-24.91 285.24,-24.91"/>
<polygon points="337.52,-66.16 345.52,-50.16 329.52,-50.16"/>
<polygon points="381.8,-90.77 389.8,-74.77 373.8,-74.77"/>
<polygon points="426.08,-131.65 434.08,-115.65 418.08,-115.65"/>
<polygon points="470.36,-147.06 478.36,-131.06 462.36,-131.06"/>
<polygon points="514.64,-154.66 522.64,-138.66 506.64,-138.66"/>
<polygon points="558.92,-144.6 566.92,-128.6 550.92,-128.6"/>
<polygon points="27.57,-10.3 35.57,-2.3 27.57,5.7 19.57,-2.3"/>
<polygon points="71.85,-9.66 79.85,-1.66 71.85,6.34 63.85,-1.66"/>
<polygon points="116.13,-10.3 124.13,-2.3 116.13,5.7 108.13,-2.3"/>
<polygon points="160.4,-8.27 168.4,-0.27 160.4,7.73 152.4,-0.27"/>
<polygon points="248.96,-12.23 256.96,-4.23 248.96,3.77 240.96,-4.23"/>
<polygon points="293.24,-18.43 301.24,-10.43 293.24,-2.43 285.24,-10.43"/>
<polygon points="337.52,-28.92 345.52,-20.92 337.52,-12.92 329.52,-20.92"/>
<polygon points="381.8,-41.33 389.8,-33.33 381.8,-25.33 373.8,-33.33"/>
<polygon points="426.08,-51.18 434.08,-43.18 426.08,-35.18 418.08,-43.18"/>
<polygon points="470.36,-58.56 478.36,-50.56 470.36,-42.56 462.36,-50.56"/>
<polygon points="514.64,-66.8 522.64,-58.8 514.64,-50.8 506.64,-58.8"/>
<polygon points="558.92,-63.16 566.92,-55.16 558.92,-47.16 550.92,-55.16"/>
<path class="ax" d="M0 -393.3V11.9M-11.9 0H590.26M-11.9 -97.8H0M-11.9 -195.6H0M-11.9 -293.4H0M-11.9 -391.2H0M147.04 0V11.9M294.08 0V11.9M441.12 0V11.9M588.16 0V11.9"/>
<text class="tk" text-anchor="end" transform="translate(-15.6 10.85) scale(1.0 1.04)">0</text>
<text class="tk" text-anchor="end" transform="translate(-15.6 -86.95) scale(1.0 1.04)">1</text>
<text class="tk" text-anchor="end" transform="translate(-15.6 -184.75) scale(1.0 1.04)">2</text>
<text class="tk" text-anchor="end" transform="translate(-15.6 -282.55) scale(1.0 1.04)">3</text>
<text class="tk" text-anchor="end" transform="translate(-15.6 -380.35) scale(1.0 1.04)">4</text>
<text class="tk" text-anchor="middle" transform="translate(0 45.3) scale(1.0 1.04)">0</text>
<text class="tk" text-anchor="middle" transform="translate(147.04 45.3) scale(1.0 1.04)">2</text>
<text class="tk" text-anchor="middle" transform="translate(294.08 45.3) scale(1.0 1.04)">4</text>
<text class="tk" text-anchor="middle" transform="translate(441.12 45.3) scale(1.0 1.04)">6</text>
<text class="tk" text-anchor="middle" transform="translate(588.16 45.3) scale(1.0 1.04)">8</text>
<text class="tt" text-anchor="middle" transform="translate(294.68 89.2) scale(1.0 1.04)">Log(ng/L)</text>
<text class="tt" text-anchor="middle" transform="translate(-51.2 -196.1) rotate(-90) scale(1.0 1.04)">OD492-OD630</text>
<path class="cv" d="M628.5 -364.9H670.5"/>
<polygon points="641.5,-372.9 657.5,-372.9 649.5,-356.9"/>
<text class="lg" transform="translate(693.9 -352.6) scale(0.988 1.05)">AL-HN 400 ng</text>
<path class="cv" d="M628.5 -319.9H670.5"/>
<rect x="641.5" y="-327.9" width="16" height="16"/>
<text class="lg" transform="translate(693.9 -307.6) scale(0.988 1.05)">AL-HN 200 ng</text>
<path class="cv" d="M628.5 -274.9H670.5"/>
<polygon points="649.5,-282.9 657.5,-266.9 641.5,-266.9"/>
<text class="lg" transform="translate(693.9 -262.6) scale(0.988 1.05)">AL-HN 100 ng</text>
<path class="cv" d="M628.5 -229.9H670.5"/>
<polygon points="649.5,-237.9 657.5,-229.9 649.5,-221.9 641.5,-229.9"/>
<text class="lg" transform="translate(693.9 -217.6) scale(0.988 1.05)">AL-HN 50 ng</text>
</g>
<text class="pl" transform="translate(6 46) scale(1.025 1.0)">A</text>
<text class="pl" transform="translate(1025.2 46.1) scale(0.97 1.005)">B</text>
<text class="pl" transform="translate(7.5 612.5) scale(0.947 1.015)">C</text>
</svg>
</body>
</html>
